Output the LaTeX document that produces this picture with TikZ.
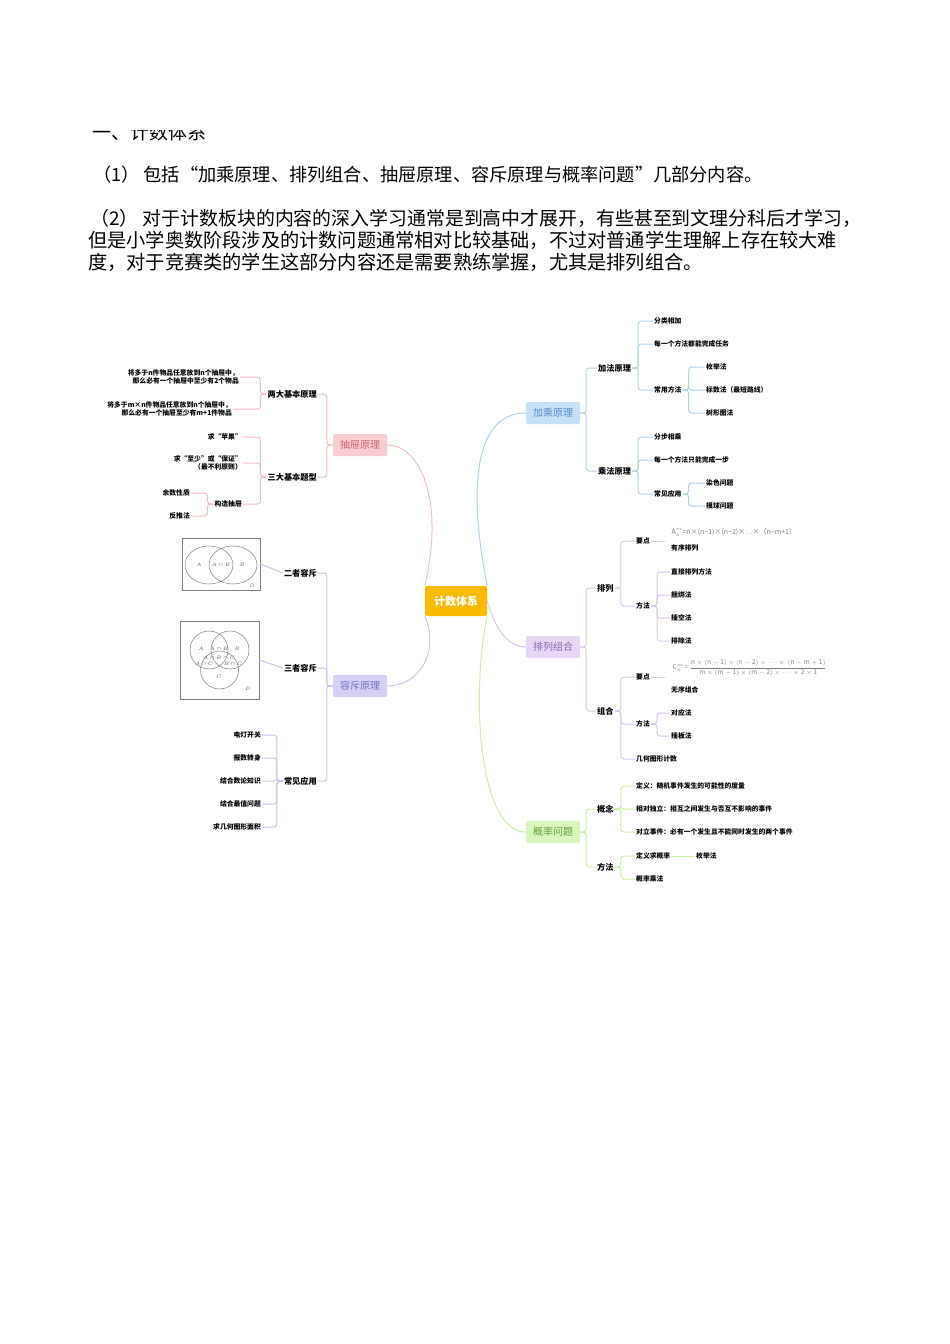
\documentclass[tikz,border=0pt]{standalone}
\usepackage{fontspec}
\setmainfont{Noto Sans CJK SC}
\newcommand\cjkb{\bfseries}
\begin{document}
\begin{tikzpicture}[x=1pt,y=-1pt,
 lf/.style={font=\fontsize{6.8}{8.5}\selectfont\cjkb,inner sep=1pt,align=left},
 lfr/.style={font=\fontsize{6.8}{8.5}\selectfont\cjkb,inner sep=1pt,align=right},
 mid/.style={font=\fontsize{8.2}{9}\selectfont\cjkb,inner sep=1pt},
 mainn/.style={font=\fontsize{10}{12}\selectfont,inner sep=0pt,minimum width=54pt,minimum height=22pt,rounded corners=2pt},
 cb/.style={draw=cB,line width=1pt},
 cp/.style={draw=cP,line width=1pt},
 cg/.style={draw=cG,line width=1pt},
 ck/.style={draw=cK,line width=1pt},
 cl/.style={draw=cL,line width=1pt},
]
\definecolor{cB}{HTML}{AED3F2}\definecolor{cP}{HTML}{DCC6F2}\definecolor{cG}{HTML}{C9F0A0}
\definecolor{cK}{HTML}{F6BDC1}\definecolor{cL}{HTML}{C9C5F2}
\useasboundingbox (0,0) rectangle (950,1344);
\newcommand\brR[3]{\foreach \c in {#3}{\draw[#1,rounded corners=3pt] (#2.east) -- ++(6,0) |- (\c.west);}}
\newcommand\brL[3]{\foreach \c in {#3}{\draw[#1,rounded corners=3pt] (#2.west) -- ++(-6,0) |- (\c.east);}}
% header text
\node[anchor=base west,font=\fontsize{19}{20}\selectfont,inner sep=0] (h0) at (92,139) {一、计数体系};
\fill[white] (80,100) rectangle (400,129.5);
\node[anchor=base west,font=\fontsize{18.2}{20}\selectfont,inner sep=0] (p1) at (93,181) {（1） 包括“加乘原理、排列组合、抽屉原理、容斥原理与概率问题”几部分内容。};
\node[anchor=base west,font=\fontsize{18.9}{22}\selectfont,inner sep=0] (p2) at (90,225) {（2） 对于计数板块的内容的深入学习通常是到高中才展开，有些甚至到文理分科后才学习，};
\node[anchor=base west,font=\fontsize{19.2}{22}\selectfont,inner sep=0] (p3) at (88,247) {但是小学奥数阶段涉及的计数问题通常相对比较基础，不过对普通学生理解上存在较大难};
\node[anchor=base west,font=\fontsize{19.2}{22}\selectfont,inner sep=0] (p4) at (88,269) {度，对于竞赛类的学生这部分内容还是需要熟练掌握，尤其是排列组合。};
% main nodes
\node[mainn,fill={rgb,255:red,250;green,186;blue,0},text=white,font=\fontsize{11}{12}\selectfont\cjkb,minimum width=62pt,minimum height=30pt] (root) at (456,601) {计数体系};
\node[mainn,fill=cB!70,text={rgb,255:red,90;green,140;blue,200}] (jc) at (553,413) {加乘原理};
\node[mainn,fill=cP!70,text={rgb,255:red,140;green,100;blue,180}] (pl) at (553,647) {排列组合};
\node[mainn,fill=cG!70,text={rgb,255:red,100;green,160;blue,60}] (gl) at (553,832) {概率问题};
\node[mainn,fill=cK!75,text={rgb,255:red,200;green,100;blue,110}] (ct) at (360,445) {抽屉原理};
\node[mainn,fill=cL!80,text={rgb,255:red,120;green,110;blue,190}] (rc) at (360,686) {容斥原理};
\draw[cb] (root.north east) .. controls (470,500) and (470,413) .. (jc.west);
\draw[cp] (root.east) .. controls (490,610) and (500,647) .. (pl.west);
\draw[cg] (root.south east) .. controls (470,700) and (480,832) .. (gl.west);
\draw[ck] (root.north west) .. controls (445,500) and (420,445) .. (ct.east);
\draw[cl] (root.south west) .. controls (440,650) and (420,686) .. (rc.east);
% 加乘
\node[mid,anchor=west] (jf) at (597,368) {加法原理};
\node[mid,anchor=west] (cf) at (597,471) {乘法原理};
\brR{cb}{jc}{jf,cf}
\node[lf,anchor=west] (a1) at (653,321) {分类相加};
\node[lf,anchor=west] (a2) at (653,344) {每一个方法都能完成任务};
\node[lf,anchor=west] (a3) at (653,390) {常用方法};
\brR{cb}{jf}{a1,a2,a3}
\node[lf,anchor=west] (a31) at (705,367) {枚举法};
\node[lf,anchor=west] (a32) at (705,390) {标数法（最短路线）};
\node[lf,anchor=west] (a33) at (705,413) {树形图法};
\brR{cb}{a3}{a31,a32,a33}
\node[lf,anchor=west] (b1) at (653,437) {分步相乘};
\node[lf,anchor=west] (b2) at (653,460) {每一个方法只能完成一步};
\node[lf,anchor=west] (b3) at (653,494) {常见应用};
\brR{cb}{cf}{b1,b2,b3}
\node[lf,anchor=west] (b31) at (705,483) {染色问题};
\node[lf,anchor=west] (b32) at (705,506) {摸球问题};
\brR{cb}{b3}{b31,b32}
% 排列组合
\node[mid,anchor=west] (pa) at (596,588) {排列};
\node[mid,anchor=west] (zh) at (596,711) {组合};
\brR{cp}{pl}{pa,zh}
\node[lf,anchor=west] (pa1) at (635,541) {要点};
\node[lf,anchor=west] (pa2) at (635,606) {方法};
\brR{cp}{pa}{pa1,pa2}
\node[anchor=west,text=gray,font=\fontsize{7}{8}\selectfont,inner sep=0.5pt] (fa) at (671,532) {A$^m_n$=n×(n−1)×(n−2)×⋯×（n−m+1）};
\node[lf,anchor=west] (yx) at (670,548) {有序排列};
\draw[cp] (pa1.east) -- (665,541);
\node[lf,anchor=west] (m1) at (670,572) {直接排列方法};
\node[lf,anchor=west] (m2) at (670,595) {捆绑法};
\node[lf,anchor=west] (m3) at (670,618) {插空法};
\node[lf,anchor=west] (m4) at (670,641) {排除法};
\brR{cp}{pa2}{m1,m2,m3,m4}
\node[lf,anchor=west] (z1) at (635,677) {要点};
\node[lf,anchor=west] (z2) at (635,724) {方法};
\node[lf,anchor=west] (z3) at (635,759) {几何图形计数};
\brR{cp}{zh}{z1,z2,z3}
\node[anchor=west,text=gray,font=\fontsize{6.5}{8}\selectfont,inner sep=0.5pt] (fc) at (672,668) {C$^m_n$ = $\displaystyle\frac{\mathrm{n\times(n-1)\times(n-2)\times\cdots\times\ (n-m+1)}}{\mathrm{m\times(m-1)\times(m-2)\times\cdots\times2\times1}}$};
\node[lf,anchor=west] (wx) at (670,690) {无序组合};
\draw[cp] (z1.east) -- (665,677);
\node[lf,anchor=west] (n1) at (670,713) {对应法};
\node[lf,anchor=west] (n2) at (670,736) {插板法};
\brR{cp}{z2}{n1,n2}
% 概率
\node[mid,anchor=west] (gn) at (596,809) {概念};
\node[mid,anchor=west] (ff) at (596,867) {方法};
\brR{cg}{gl}{gn,ff}
\node[lf,anchor=west] (g1) at (635,786) {定义：随机事件发生的可能性的度量};
\node[lf,anchor=west] (g2) at (635,809) {相对独立：相互之间发生与否互不影响的事件};
\node[lf,anchor=west] (g3) at (635,832) {对立事件：必有一个发生且不能同时发生的两个事件};
\brR{cg}{gn}{g1,g2,g3}
\node[lf,anchor=west] (f1) at (635,856) {定义求概率};
\node[lf,anchor=west] (f2) at (635,879) {概率乘法};
\brR{cg}{ff}{f1,f2}
\node[lf,anchor=west] (f11) at (695,856) {枚举法};
\draw[cg] (f1.east) -- (f11.west);
% 抽屉
\node[mid,anchor=east] (ld) at (318,394) {两大基本原理};
\node[mid,anchor=east] (sd) at (318,477) {三大基本题型};
\brL{ck}{ct}{ld,sd}
\node[lfr,anchor=east] (l1) at (240,377) {将多于n件物品任意放到n个抽屉中，\\那么必有一个抽屉中至少有2个物品};
\node[lfr,anchor=east] (l2) at (233,409) {将多于m×n件物品任意放到n个抽屉中，\\那么必有一个抽屉至少有m+1件物品};
\brL{ck}{ld}{l1,l2}
\node[lfr,anchor=east] (s1) at (243,437) {求“苹果”};
\node[lfr,anchor=east] (s2) at (243,463) {求“至少”或“保证”\\（最不利原则）};
\node[lfr,anchor=east] (s3) at (243,504) {构造抽屉};
\brL{ck}{sd}{s1,s2,s3}
\node[lfr,anchor=east] (s31) at (191,493) {余数性质};
\node[lfr,anchor=east] (s32) at (191,516) {反推法};
\brL{ck}{s3}{s31,s32}
% 容斥
\node[mid,anchor=east] (r2) at (318,573) {二者容斥};
\node[mid,anchor=east] (r3) at (318,668) {三者容斥};
\node[mid,anchor=east] (ry) at (318,781) {常见应用};
\brL{cl}{rc}{r2,r3,ry}
\node[draw=gray,line width=0.6pt,minimum width=78pt,minimum height=52pt,inner sep=0] (v2) at (221,564) {};
\draw[gray,line width=0.5pt] (209,565) ellipse (24 and 19) (233,565) ellipse (24 and 19);
\node[font=\fontsize{3}{4}\selectfont,text=gray!70!black] (t1) at (199,565) {$A$};
\node[font=\fontsize{3}{4}\selectfont,text=gray!70!black] (t2) at (221,565) {$A\cap B$};
\node[font=\fontsize{3}{4}\selectfont,text=gray!70!black] (t3) at (242,565) {$B$};
\node[font=\fontsize{3}{4}\selectfont,text=gray!70!black] (t4) at (252,586) {$D$};
\draw[cl] (r2.west) -- (v2.east);
\node[draw=gray,line width=0.6pt,minimum width=79pt,minimum height=78pt,inner sep=0] (v3) at (219.5,660) {};
\draw[gray,line width=0.5pt] (209,650) circle (19) (230,650) circle (19) (219.5,670) circle (19);
\foreach \n/\x/\y/\t in {u1/201/649/A,u2/237/649/B,u3/219/649/{A\cap B},u4/219/658/{A\cap B\cap C},u5/204/664/{A\cap C},u6/233/664/{B\cap C},u7/219/677/C,u8/248/689/D}
 \node[font=\fontsize{2.5}{3}\selectfont,text=gray!70!black,inner sep=0] (\n) at (\x,\y) {$\t$};
\draw[cl] (r3.west) -- (v3.east);
\node[lfr,anchor=east] (e1) at (262,735) {电灯开关};
\node[lfr,anchor=east] (e2) at (262,758) {报数转身};
\node[lfr,anchor=east] (e3) at (262,781) {结合数论知识};
\node[lfr,anchor=east] (e4) at (262,804) {结合最值问题};
\node[lfr,anchor=east] (e5) at (262,827) {求几何图形面积};
\brL{cl}{ry}{e1,e2,e3,e4,e5}
\end{tikzpicture}
\end{document}
